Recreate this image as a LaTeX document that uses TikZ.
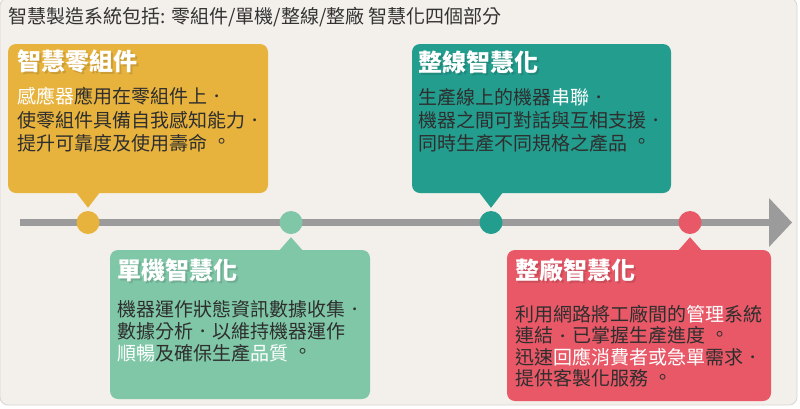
\documentclass[tikz,border=0pt]{standalone}
\usepackage{fontspec}
\setmainfont{Noto Sans CJK TC}
\usetikzlibrary{calc}
\definecolor{bgc}{HTML}{F3F0EB}
\definecolor{edgec}{HTML}{D9D6D2}
\definecolor{cy}{HTML}{E8B33D}
\definecolor{cg}{HTML}{7FC7A7}
\definecolor{ct}{HTML}{239D8E}
\definecolor{cr}{HTML}{E85867}
\definecolor{linec}{HTML}{9B9B9B}
\definecolor{txt}{HTML}{2E2E2E}
\definecolor{titlec}{HTML}{333333}
\newcommand{\hl}[1]{\textcolor{white}{#1}}
% centred (Traditional-Chinese style) comma and full stop
\newcommand{\tccomma}{\makebox[1em][c]{\raisebox{0.09em}{\scalebox{0.72}{·}}}}
\newcommand{\tcstop}{\makebox[1em][l]{\hspace{0.28em}\raisebox{0.08em}{。}}}
\begin{document}
\begin{tikzpicture}[x=1pt,y=-1pt,
  card/.style={rounded corners=8pt, inner sep=0pt, draw=none},
  dotnode/.style={circle, minimum size=23pt, inner sep=0pt},
  headtxt/.style={anchor=west, inner sep=0pt, text=white, font=\fontsize{24}{27}\selectfont\bfseries},
  headshadow/.style={anchor=west, inner sep=0pt, text=black, opacity=0.12, font=\fontsize{24}{27}\selectfont\bfseries},
  bodytxt/.style={anchor=west, inner sep=0pt, text=txt, font=\fontsize{19}{21}\selectfont},
  titletxt/.style={anchor=west, inner sep=0pt, text=titlec, font=\fontsize{19}{21}\selectfont}]
\useasboundingbox (0,0) rectangle (800,408);
% background
\fill[white] (0,0) rectangle (800,408);
\fill[bgc, draw=edgec, line width=0.8pt, rounded corners=8pt] (0,-2) rectangle (797,405);
% title
\node[titletxt] (title) at (8,17) {智慧製造系統包括: 零組件/單機/整線/整廠 智慧化四個部分};
% timeline
\coordinate (ls) at (20,222.5);
\coordinate (le) at (769,222.5);
\coordinate (tipc) at (792,222.5);
\draw[linec, line width=7pt] (ls) -- (le);
\fill[linec] ($(le)+(0,-24.5)$) -- (tipc) -- ($(le)+(0,24.5)$) -- cycle;
% dots
\node[dotnode, fill=cy] (d1) at (88,222.5) {};
\node[dotnode, fill=cg] (d2) at (291,222.5) {};
\node[dotnode, fill=ct] (d3) at (491,222.5) {};
\node[dotnode, fill=cr] (d4) at (690,222.5) {};
% cards
\node[card, fill=cy, minimum width=260pt, minimum height=149pt] (b1) at (138,118.5) {};
\node[card, fill=ct, minimum width=259pt, minimum height=149pt] (b3) at (541.5,118.5) {};
\node[card, fill=cg, minimum width=260pt, minimum height=149pt] (b2) at (240,324.5) {};
\node[card, fill=cr, minimum width=264pt, minimum height=151pt] (b4) at (639,325.5) {};
% pointers
\fill[cy] ($(b1.south -| d1)+(-12,-1)$) -- ($(d1.north)+(0,-3)$) -- ($(b1.south -| d1)+(12,-1)$) -- cycle;
\fill[ct] ($(b3.south -| d3)+(-12,-1)$) -- ($(d3.north)+(0,-3)$) -- ($(b3.south -| d3)+(12,-1)$) -- cycle;
\fill[cg] ($(b2.north -| d2)+(-12,1)$) -- ($(d2.south)+(0,3)$) -- ($(b2.north -| d2)+(12,1)$) -- cycle;
\fill[cr] ($(b4.north -| d4)+(-12,1)$) -- ($(d4.south)+(0,3)$) -- ($(b4.north -| d4)+(12,1)$) -- cycle;
% headings
\node[headshadow] (h1s) at (19.5,63.5) {智慧零組件};
\node[headtxt] (h1) at (17,61) {智慧零組件};
\node[headshadow] (h3s) at (420.5,64.5) {整線智慧化};
\node[headtxt] (h3) at (418,62) {整線智慧化};
\node[headshadow] (h2s) at (119.5,272.5) {單機智慧化};
\node[headtxt] (h2) at (117,270) {單機智慧化};
\node[headshadow] (h4s) at (517.5,272.5) {整廠智慧化};
\node[headtxt] (h4) at (515,270) {整廠智慧化};
% body texts
\node[bodytxt] (t1a) at (17,96) {\hl{感應器}應用在零組件上\tccomma};
\node[bodytxt] (t1b) at (17,120) {使零組件具備自我感知能力\tccomma};
\node[bodytxt] (t1c) at (17,143) {提升可靠度及使用壽命\tcstop};
\node[bodytxt] (t3a) at (418,97) {生產線上的機器\hl{串聯}\tccomma};
\node[bodytxt] (t3b) at (418,120) {機器之間可對話與互相支援\tccomma};
\node[bodytxt] (t3c) at (418,143) {同時生產不同規格之產品\tcstop};
\node[bodytxt] (t2a) at (117,309) {機器運作狀態資訊數據收集\tccomma};
\node[bodytxt] (t2b) at (117,331) {數據分析\tccomma 以維持機器運作};
\node[bodytxt] (t2c) at (117,353) {\hl{順暢}及確保生產\hl{品質}\tcstop};
\node[bodytxt] (t4a) at (515,314) {利用網路將工廠間的\hl{管理}系統};
\node[bodytxt] (t4b) at (515,335.5) {連結\tccomma 已掌握生產進度\tcstop};
\node[bodytxt] (t4c) at (515,357) {迅速\hl{回應消費者或急單}需求\tccomma};
\node[bodytxt] (t4d) at (515,378.5) {提供客製化服務\tcstop};
\end{tikzpicture}
\end{document}
